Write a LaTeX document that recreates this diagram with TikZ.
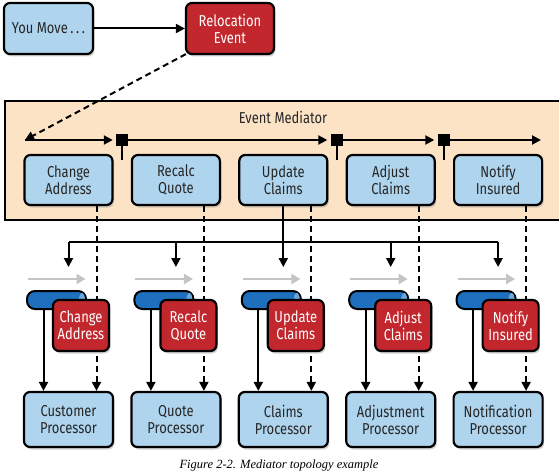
\documentclass[tikz,border=0pt]{standalone}
\usepackage{fontspec}
\setmainfont{Fira Sans}[FakeStretch=0.82]
\newfontfamily\capfont{Liberation Serif}
\usetikzlibrary{arrows.meta,shadows}
\definecolor{boxblue}{HTML}{AED4EE}
\definecolor{boxred}{HTML}{C1272D}
\definecolor{medorange}{HTML}{FCE3C6}
\definecolor{qblue}{HTML}{1F6FBF}
\definecolor{qlight}{HTML}{6BA6DC}
\definecolor{greyarrow}{HTML}{C4C4C4}
\tikzset{
 base/.style={draw=black, line width=2.2pt, rounded corners=6pt, align=center, font=\fontsize{15.8}{17}\selectfont, inner sep=0pt, drop shadow={shadow xshift=1.5pt, shadow yshift=-2.5pt, opacity=0.35}},
 bluebox/.style={base, fill=boxblue, text=black!85},
 redbox/.style={base, fill=boxred, text=white},
 conn/.style={line width=2pt, -{Triangle[length=9pt,width=9pt]}},
 dconn/.style={conn, dash pattern=on 6pt off 4pt},
 plain/.style={line width=2pt},
 sq/.style={fill=black, minimum size=12pt, inner sep=0pt},
 greyarr/.style={line width=2.2pt, draw=greyarrow, -{Triangle[length=9pt,width=10pt]}},
 queue/.style={draw=black, line width=2pt, fill=qblue, rounded corners=8pt, minimum width=59pt, minimum height=18pt, inner sep=0pt},
}
\begin{document}
\begin{tikzpicture}[x=1pt,y=-1pt]
\useasboundingbox (0,0) rectangle (559,473);
% top
\node[bluebox, minimum width=89pt, minimum height=51pt] (you) at (48.5,28.5) {You Move\,.\,.\,.};
\node[redbox, minimum width=88pt, minimum height=51pt] (reloc) at (230,28.5) {Relocation\\Event};
\draw[conn] (you) -- (reloc);
% mediator
\node[draw=black, line width=2pt, fill=medorange, minimum width=565pt, minimum height=119pt, inner sep=0pt] (med) at (287.5,160.5) {};
\node[font=\fontsize{15.8}{17}\selectfont, text=black!85] (medlabel) at (283,117) {Event Mediator};
\coordinate (start) at (25,140);
\coordinate (fin) at (541,140);
\draw[dconn] ([shift={(1pt,1pt)}]reloc.south west) -- (start);
\node[sq] (s1) at (122,140) {};
\node[sq] (s2) at (336.5,140) {};
\node[sq] (s3) at (443.5,140) {};
\draw[conn, shorten >=3pt] (start) -- (s1.west);
\draw[conn, shorten >=3pt] (s1.east) -- (s2.west);
\draw[conn, shorten >=3pt] (s2.east) -- (s3.west);
\draw[conn] (s3.east) -- (fin);
\foreach \s in {s1,s2,s3} \draw[plain] (\s.south) -- ++(0,14);
% columns
\foreach \i/\st/\pr in {0/{Change\\Address}/{Customer\\Processor},1/{Recalc\\Quote}/{Quote\\Processor},2/{Update\\Claims}/{Claims\\Processor},3/{Adjust\\Claims}/{Adjustment\\Processor},4/{Notify\\Insured}/{Notification\\Processor}}{
  \pgfmathsetmacro\cx{68.5+107.4*\i}
  \node[bluebox, minimum width=88pt, minimum height=50pt] (step\i) at (\cx,180) {\st};
  \node[bluebox, minimum width=89pt, minimum height=55pt] (p\i) at (\cx,419.5) {\pr};
  \coordinate (b\i) at (\cx,242);
}
\draw[plain] (step2.south) -- (b2);
\draw[plain] (b0) -- (b4);
\foreach \i/\st in {0/{Change\\Address},1/{Recalc\\Quote},2/{Update\\Claims},3/{Adjust\\Claims},4/{Notify\\Insured}}{
  \pgfmathsetmacro\cx{68.5+107.4*\i}
  \draw[conn] (b\i) -- ++(0,25);
  \coordinate (ga\i) at (\cx-40.5,279);
  \coordinate (gb\i) at (\cx+17,279);
  \draw[greyarr] (ga\i) -- (gb\i);
  \draw[dconn] ([xshift=28pt]step\i.south) -- ([xshift=28pt]p\i.north);
  \node[queue] (q\i) at (\cx-12,300) {};
  \fill[qlight] ([xshift=-5pt]q\i.east) ellipse (3pt and 7pt);
  \draw[conn] ([xshift=-13pt]q\i.south) -- ([xshift=-25pt]p\i.north);
  \node[redbox, minimum width=56pt, minimum height=51pt] (ev\i) at (\cx+12.5,325.5) {\st};
}
\node[font=\capfont\itshape\fontsize{12.5}{14}\selectfont] (cap) at (279,466) {Figure 2-2. Mediator topology example};
\end{tikzpicture}
\end{document}
